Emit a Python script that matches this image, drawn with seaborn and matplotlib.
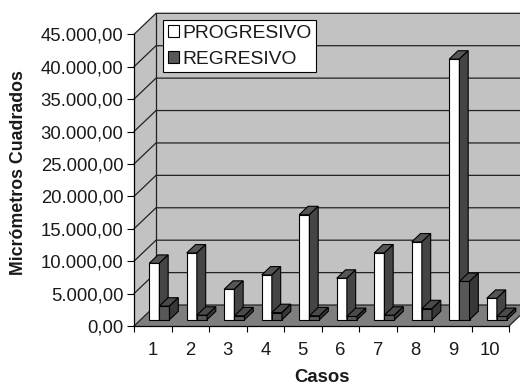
import numpy as np
import pandas as pd
import matplotlib
matplotlib.use("Agg")
import matplotlib.pyplot as plt
import seaborn as sns
from matplotlib.patches import Polygon, Patch, Rectangle
from matplotlib.transforms import Affine2D

# ---- data ----
casos = ["1", "2", "3", "4", "5", "6", "7", "8", "9", "10"]
progresivo = [8700, 10300, 4700, 6900, 16200, 6400, 10300, 12000, 40200, 3300]
regresivo = [2100, 700, 600, 1100, 600, 500, 700, 1700, 5900, 500]
series = ["PROGRESIVO", "REGRESIVO"]
yticks = [0, 5000, 10000, 15000, 20000, 25000, 30000, 35000, 40000, 45000]

sns.set_theme(style="white")
plt.rcParams["font.family"] = ["Liberation Sans", "DejaVu Sans"]

TXT = "#1a1a1a"
FS = 13.3

fig = plt.figure(figsize=(5.2, 3.85), dpi=100)
ax = fig.add_axes([0.2577, 0.1532, 0.7212, 0.7577])

df = pd.DataFrame({
    "Casos": casos * 2,
    "valor": progresivo + regresivo,
    "serie": [series[0]] * len(casos) + [series[1]] * len(casos),
})
front_cols = ["#ffffff", "#585858"]
sns.barplot(data=df, x="Casos", y="valor", hue="serie", palette=front_cols,
            width=0.54, dodge=True, errorbar=None, edgecolor="black",
            linewidth=0.8, saturation=1, ax=ax, legend=False)
bars = [p for p in ax.patches if isinstance(p, Rectangle)]

ax.set_xlim(-0.5, 9.5)
ax.set_ylim(0, 45000)
ax.grid(False)

# 3D pseudo depth (data units)
DX, DY = 0.587, 3240
f0, fd = 0.3, 0.4
ox, oy = f0 * DX, f0 * DY
bx, by = fd * DX, fd * DY

x0, x1 = -0.5, 9.5
ytop = yticks[-1]
wall_c = "#c2c2c2"
floor_c = "#7e7e7e"

# back wall
ax.add_patch(Polygon([(x0 + DX, DY), (x1 + DX, DY), (x1 + DX, ytop + DY), (x0 + DX, ytop + DY)],
                     closed=True, fc=wall_c, ec="none", zorder=0.5, clip_on=False))
# left wall
ax.add_patch(Polygon([(x0, 0), (x0 + DX, DY), (x0 + DX, ytop + DY), (x0, ytop)],
                     closed=True, fc=wall_c, ec="none", zorder=0.5, clip_on=False))
# floor
ax.add_patch(Polygon([(x0, 0), (x1, 0), (x1 + DX, DY), (x0 + DX, DY)],
                     closed=True, fc=floor_c, ec="none", zorder=0.6, clip_on=False))
# gridlines on walls
for t in yticks:
    ax.plot([x0, x0 + DX, x1 + DX], [t, t + DY, t + DY], color="#222222", lw=0.9,
            zorder=0.7, clip_on=False, solid_joinstyle="miter")
ax.plot([x0 + DX, x0 + DX], [DY, ytop + DY], color="#222222", lw=0.9, zorder=0.7, clip_on=False)
ax.plot([x1, x1 + DX], [0, DY], color="#222222", lw=0.9, zorder=0.7, clip_on=False)

# 3D bar faces
for p in bars:
    x, w, h = p.get_x(), p.get_width(), p.get_height()
    is_prog = p.get_facecolor()[0] > 0.9
    side_c = "#454545" if is_prog else "#383838"
    top_c = "#565656" if is_prog else "#4a4a4a"
    z = 3 + (x + 1) * 0.05
    p.set_transform(Affine2D().translate(ox, oy) + ax.transData)
    p.set_zorder(z)
    p.set_clip_on(False)
    xa, xb = x + ox, x + w + ox
    ya, yb = oy, h + oy
    ax.add_patch(Polygon([(xa, yb), (xb, yb), (xb + bx, yb + by), (xa + bx, yb + by)],
                         closed=True, fc=top_c, ec="black", lw=0.8, zorder=z + 0.001, clip_on=False))
    ax.add_patch(Polygon([(xb, ya), (xb, yb), (xb + bx, yb + by), (xb + bx, ya + by)],
                         closed=True, fc=side_c, ec="black", lw=0.8, zorder=z + 0.001, clip_on=False))

# axes styling
for s in ["top", "right"]:
    ax.spines[s].set_visible(False)
for s in ["left", "bottom"]:
    ax.spines[s].set_color("black")
    ax.spines[s].set_linewidth(0.9)


def fmt(v):
    return f"{v:,.2f}".replace(",", "X").replace(".", ",").replace("X", ".")


ax.set_yticks(yticks, labels=[fmt(t) for t in yticks])
ax.set_xticks(range(len(casos)), labels=casos)
ax.set_xticks(np.arange(-0.5, len(casos), 1), minor=True)
ax.tick_params(axis="y", which="major", left=True, direction="out", length=5,
               width=0.8, pad=2.5, labelsize=FS, color="black", labelcolor=TXT)
ax.tick_params(axis="x", which="major", bottom=True, length=0, pad=11.5,
               labelsize=FS, labelcolor=TXT)
ax.tick_params(axis="x", which="minor", bottom=True, direction="out", length=4.5,
               width=0.8, color="black")

ax.set_xlabel("Casos", fontsize=FS, fontweight="bold", color=TXT)
ax.xaxis.set_label_coords(0.5, -0.175)
ax.xaxis.label.set_va("center")
ax.set_ylabel("Micrómetros Cuadrados", fontsize=12.8, fontweight="bold", color=TXT)
ax.yaxis.set_label_coords(-0.309, 0.526)
ax.yaxis.label.set_va("center")

handles = [Patch(fc=front_cols[0], ec="black", lw=0.8),
           Patch(fc=front_cols[1], ec="black", lw=0.8)]
leg = fig.legend(handles=handles, labels=series, loc="upper left",
                 bbox_to_anchor=(163 / 520, 1 - 20 / 385), frameon=True,
                 fancybox=False, framealpha=1, edgecolor="black",
                 borderaxespad=0, borderpad=0.25, handlelength=0.6,
                 handleheight=0.6, handletextpad=0.15, labelspacing=0.45,
                 fontsize=13.9)
leg.get_frame().set_linewidth(0.8)
for t in leg.get_texts():
    t.set_color(TXT)

fig.savefig("out.png", dpi=100)
